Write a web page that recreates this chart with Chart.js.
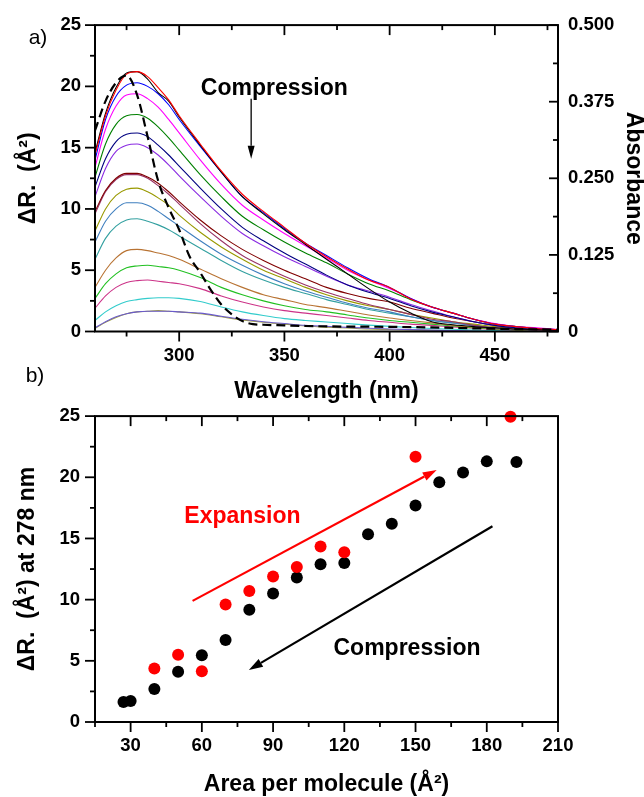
<!DOCTYPE html>
<html><head><meta charset="utf-8">
<script src="https://cdn.jsdelivr.net/npm/chart.js@4.4.1/dist/chart.umd.min.js"></script>
<style>
html,body{margin:0;padding:0;background:#fff;overflow:hidden;width:644px;height:797px;}
#ca{position:absolute;left:0;top:0;width:644px;height:405px;}
#cb{position:absolute;left:0;top:390px;width:644px;height:410px;}
</style></head><body>
<canvas id="ca" width="644" height="405"></canvas>
<canvas id="cb" width="644" height="410"></canvas>
<script>
// ---------- Panel a data ----------
const WAVELENGTH_NM = [260,265,270,275,280,285,290,295,300,310,320,330,340,350,360,370,380,390,400,410,420,430,440,450,460,470,480];
const S_RED     = [14.4,17.6,19.7,21.0,21.2,20.8,19.9,18.9,17.6,15.3,13.1,11.2,9.8,8.5,7.2,6.1,5.1,4.2,3.6,2.65,2.0,1.5,1.0,0.6,0.4,0.25,0.15];
const S_BLACK   = [14.6,17.8,19.9,21.1,21.2,20.6,19.5,18.8,17.5,15.2,13.0,11.0,9.6,8.3,7.1,5.9,4.7,3.5,2.4,1.5,0.8,0.55,0.4,0.3,0.2,0.15,0.1];
const S_BLUE    = [14.0,17.3,19.2,20.1,20.3,20.0,19.4,18.5,17.3,15.1,13.0,11.0,9.7,8.4,7.2,6.2,5.2,4.3,3.6,2.7,2.0,1.5,1.0,0.6,0.4,0.25,0.15];
const S_MAGENTA = [13.4,16.5,18.4,19.3,19.4,19.0,18.3,17.3,16.2,14.0,12.0,10.3,9.1,8.0,7.0,6.0,5.0,4.2,3.5,2.7,2.0,1.5,1.0,0.65,0.4,0.3,0.15];
const S_GREEN   = [12.6,15.3,16.9,17.6,17.7,17.4,16.7,15.8,14.8,12.8,11.0,9.4,8.3,7.3,6.4,5.6,4.7,3.9,3.3,2.6,2.0,1.5,1.0,0.6,0.4,0.25,0.15];
const S_NAVY    = [11.8,14.1,15.5,16.1,16.2,15.9,15.2,14.4,13.5,11.7,10.0,8.5,7.4,6.4,5.5,4.6,3.8,3.2,2.7,2.1,1.6,1.2,0.8,0.5,0.3,0.2,0.1];
const S_VIOLET  = [11.0,13.3,14.7,15.2,15.3,15.0,14.4,13.6,12.7,11.0,9.4,8.0,7.0,6.1,5.3,4.5,3.8,3.3,2.8,2.2,1.7,1.2,0.8,0.5,0.3,0.2,0.1];
const S_MAROON  = [9.8,11.5,12.5,12.9,12.9,12.6,12.1,11.4,10.6,9.1,7.8,6.7,5.8,5.0,4.3,3.6,3.1,2.7,2.4,1.9,1.5,1.1,0.8,0.5,0.3,0.2,0.1];
const S_PLUM    = [9.6,11.4,12.4,12.8,12.8,12.5,11.9,11.2,10.4,8.8,7.4,6.2,5.3,4.5,3.8,3.2,2.7,2.2,1.8,1.4,1.0,0.8,0.5,0.3,0.2,0.1,0.1];
const S_OLIVE   = [8.2,10.0,11.1,11.6,11.7,11.4,10.9,10.3,9.5,8.1,6.9,5.9,5.0,4.3,3.6,3.0,2.5,2.1,1.8,1.4,1.1,0.8,0.6,0.4,0.2,0.15,0.1];
const S_STEEL   = [7.3,9.0,10.0,10.5,10.5,10.3,9.8,9.2,8.6,7.4,6.3,5.4,4.6,3.9,3.3,2.8,2.3,1.9,1.6,1.2,0.9,0.7,0.5,0.3,0.2,0.1,0.1];
const S_TEAL    = [5.9,7.6,8.6,9.1,9.2,9.0,8.7,8.3,7.8,6.8,5.8,4.9,4.2,3.6,3.1,2.6,2.2,1.8,1.5,1.2,0.9,0.7,0.5,0.3,0.2,0.1,0.1];
const S_BROWN   = [3.6,5.0,6.0,6.6,6.7,6.6,6.4,6.2,5.9,5.1,4.3,3.6,3.0,2.6,2.2,1.95,1.65,1.35,1.1,0.9,0.7,0.5,0.35,0.25,0.15,0.1,0.05];
const S_LIME    = [2.7,3.9,4.7,5.2,5.35,5.4,5.3,5.2,5.0,4.4,3.6,3.0,2.5,2.1,1.8,1.6,1.35,1.1,0.9,0.75,0.6,0.45,0.3,0.2,0.12,0.08,0.05];
const S_PINK    = [1.9,2.9,3.6,4.0,4.15,4.2,4.1,4.0,3.9,3.5,2.9,2.4,2.0,1.7,1.5,1.3,1.1,0.9,0.75,0.6,0.5,0.38,0.27,0.17,0.1,0.06,0.04];
const S_CYAN    = [0.9,1.6,2.1,2.45,2.6,2.7,2.75,2.75,2.7,2.45,2.0,1.6,1.3,1.05,0.9,0.78,0.65,0.52,0.42,0.33,0.25,0.18,0.12,0.08,0.05,0.03,0.02];
const S_SLATE   = [0.3,0.8,1.2,1.45,1.6,1.65,1.65,1.65,1.6,1.5,1.25,1.0,0.8,0.65,0.5,0.42,0.34,0.27,0.2,0.15,0.11,0.08,0.05,0.03,0.02,0.01,0];
const S_KHAKI   = [0.25,0.75,1.15,1.45,1.6,1.65,1.7,1.65,1.6,1.45,1.2,0.95,0.75,0.6,0.45,0.35,0.28,0.2,0.16,0.12,0.1,0.07,0.05,0.03,0.02,0.01,0];

const ABS_WL     = [260,265,270,275,280,285,290,295,300,305,310,315,320,325,330,335,340,350,360,380,400,420,440,460,480];
const ABSORBANCE = [0.328,0.376,0.406,0.418,0.386,0.318,0.246,0.202,0.166,0.122,0.096,0.068,0.044,0.028,0.017,0.012,0.011,0.010,0.009,0.008,0.0076,0.0066,0.0052,0.004,0.003];

// ---------- Panel b data ----------
const AREA_COMPRESSION = [27,30,40,50,60,70,80,90,100,110,120,130,140,150,160,170,180,192.5];
const DR_COMPRESSION   = [1.64,1.72,2.7,4.1,5.45,6.7,9.17,10.5,11.8,12.9,13.0,15.35,16.2,17.7,19.6,20.4,21.3,21.25];
const AREA_EXPANSION   = [40,50,60,70,80,90,100,110,120,150,190];
const DR_EXPANSION     = [4.38,5.5,4.14,9.6,10.7,11.9,12.66,14.35,13.87,21.67,24.95];

// ---------- styles ----------
const SPECTRA = [S_RED,S_BLACK,S_BLUE,S_MAGENTA,S_GREEN,S_NAVY,S_VIOLET,S_MAROON,S_PLUM,S_OLIVE,S_STEEL,S_TEAL,S_BROWN,S_LIME,S_PINK,S_CYAN,S_SLATE,S_KHAKI];
const SPECTRA_COLORS = ['#ff0000','#000000','#0000ff','#ff00ff','#008000','#000080','#8a2be2','#800000','#993366','#999900','#3f7fbf','#33a0a0','#b87333','#22c022','#cc3388','#33cccc','#6a5acd','#a0a040'];

const FAM = "'Liberation Sans', Arial, Helvetica, sans-serif";
Chart.defaults.font.family = FAM;
Chart.defaults.color = '#000';

function isMajor(v, step){ return Math.abs(v/step - Math.round(v/step)) < 1e-6; }

const framePlugin = {
  id: 'frame',
  afterDraw(chart, args, o) {
    const ctx = chart.ctx, a = chart.chartArea;
    ctx.save();
    ctx.strokeStyle = '#000';
    ctx.lineWidth = 2;
    ctx.strokeRect(a.left, a.top, a.right - a.left, a.bottom - a.top);
    ctx.lineWidth = 1.8;
    (o.ticks || []).forEach(t => {
      const s = chart.scales[t.axis];
      s.ticks.forEach(tk => {
        const v = tk.value;
        if (v < s.min - 1e-9 || v > s.max + 1e-9) return;
        const len = isMajor(v, t.major) ? t.majLen : t.minLen;
        const p = s.getPixelForValue(v);
        ctx.beginPath();
        if (t.edge === 'bottom') { ctx.moveTo(p, a.bottom); ctx.lineTo(p, a.bottom + (t.inward ? -len : len)); }
        if (t.edge === 'top')    { ctx.moveTo(p, a.top);    ctx.lineTo(p, a.top + (t.inward ? len : -len)); }
        if (t.edge === 'left')   { ctx.moveTo(a.left, p);   ctx.lineTo(a.left + (t.inward ? len : -len), p); }
        if (t.edge === 'right')  { ctx.moveTo(a.right, p);  ctx.lineTo(a.right + (t.inward ? -len : len), p); }
        ctx.stroke();
      });
    });
    (o.arrows || []).forEach(ar => {
      const xs = chart.scales[ar.xAxis], ys = chart.scales[ar.yAxis];
      const x1 = xs.getPixelForValue(ar.from[0]), y1 = ys.getPixelForValue(ar.from[1]);
      const x2 = xs.getPixelForValue(ar.to[0]),   y2 = ys.getPixelForValue(ar.to[1]);
      const ang = Math.atan2(y2 - y1, x2 - x1);
      const bx = x2 - ar.head * Math.cos(ang), by = y2 - ar.head * Math.sin(ang);
      ctx.strokeStyle = ar.color; ctx.fillStyle = ar.color; ctx.lineWidth = ar.width;
      ctx.beginPath(); ctx.moveTo(x1, y1); ctx.lineTo(bx, by); ctx.stroke();
      ctx.beginPath();
      ctx.moveTo(x2, y2);
      ctx.lineTo(bx + ar.headW * Math.sin(ang), by - ar.headW * Math.cos(ang));
      ctx.lineTo(bx - ar.headW * Math.sin(ang), by + ar.headW * Math.cos(ang));
      ctx.closePath(); ctx.fill();
    });
    (o.texts || []).forEach(tx => {
      const xs = chart.scales[tx.xAxis], ys = chart.scales[tx.yAxis];
      ctx.fillStyle = tx.color; ctx.font = tx.font;
      ctx.textAlign = 'center'; ctx.textBaseline = 'middle';
      ctx.fillText(tx.text, xs.getPixelForValue(tx.at[0]), ys.getPixelForValue(tx.at[1]));
    });
    (o.labels || []).forEach(lb => {
      ctx.fillStyle = '#000'; ctx.font = lb.font;
      ctx.textAlign = 'center'; ctx.textBaseline = 'middle';
      ctx.fillText(lb.text, lb.px[0], lb.px[1]);
    });
    ctx.restore();
  }
};

const tickFont = {size: 18.5, weight: 'bold', family: FAM};
const titleFont = {size: 23, weight: 'bold', family: FAM};

// ---------- Chart a ----------
const dsA = [{
  label: 'Absorbance', yAxisID: 'y1',
  data: ABS_WL.map((w, i) => ({x: w, y: ABSORBANCE[i]})),
  borderColor: '#000', borderWidth: 2.2, borderDash: [9, 5], pointRadius: 0, cubicInterpolationMode: 'monotone'
}];
SPECTRA.forEach((s, k) => dsA.push({
  label: 'spectrum ' + (k + 1), yAxisID: 'y',
  data: WAVELENGTH_NM.map((w, i) => ({x: w, y: s[i]})),
  borderColor: SPECTRA_COLORS[k], borderWidth: 1.1, pointRadius: 0, cubicInterpolationMode: 'monotone'
}));

new Chart(document.getElementById('ca'), {
  type: 'line',
  data: {datasets: dsA},
  plugins: [framePlugin],
  options: {
    responsive: false, animation: false, parsing: true,
    layout: {padding: {top: 22, left: 0, right: 0, bottom: 0}},
    plugins: {
      legend: {display: false}, tooltip: {enabled: false},
      frame: {
        ticks: [
          {axis: 'x', edge: 'bottom', inward: false, major: 50, majLen: 10, minLen: 5},
          {axis: 'x', edge: 'top', inward: true, major: 50, majLen: 10, minLen: 5},
          {axis: 'y', edge: 'left', inward: false, major: 5, majLen: 10, minLen: 5},
          {axis: 'y1', edge: 'right', inward: true, major: 0.125, majLen: 9, minLen: 5}
        ],
        arrows: [{from: [334.2, 19.0], to: [334.2, 14.1], xAxis: 'x', yAxis: 'y', color: '#000', width: 1.3, head: 13, headW: 3.5}],
        texts: [{text: 'Compression', at: [345.2, 19.8], xAxis: 'x', yAxis: 'y', color: '#000', font: "bold 23px " + FAM}],
        labels: [{text: 'a)', px: [38, 38], font: "21px " + FAM}, {text: 'b)', px: [35, 376], font: "21px " + FAM}]
      }
    },
    scales: {
      x: {
        type: 'linear', position: 'bottom', min: 260, max: 480,
        grid: {display: false, drawTicks: false}, border: {display: false},
        ticks: {stepSize: 25, includeBounds: false, autoSkip: false, maxRotation: 0, padding: 13, font: tickFont, color: '#000',
                callback: v => isMajor(v, 50) ? String(v) : ''},
        title: {display: true, text: 'Wavelength (nm)', font: titleFont, color: '#000', padding: {top: 0, bottom: 0}},
        afterFit: s => { s.height = 73.5; }
      },
      y: {
        type: 'linear', position: 'left', min: 0, max: 25,
        grid: {display: false, drawTicks: false}, border: {display: false},
        ticks: {stepSize: 2.5, autoSkip: false, padding: 14, font: tickFont, color: '#000',
                callback: v => isMajor(v, 5) ? String(v) : ''},
        title: {display: true, text: 'ΔR.  (Å²)', font: titleFont, color: '#000', padding: {top: 15, bottom: 0}},
        afterFit: s => { s.width = 95; }
      },
      y1: {
        type: 'linear', position: 'right', min: 0, max: 0.5,
        grid: {display: false, drawTicks: false}, border: {display: false},
        ticks: {stepSize: 0.0625, autoSkip: false, padding: 10, font: tickFont, color: '#000',
                callback: v => isMajor(v, 0.125) ? (v === 0 ? '0' : v.toFixed(3)) : ''},
        title: {display: true, text: 'Absorbance', font: titleFont, color: '#000', padding: {top: -3, bottom: 0}},
        afterFit: s => { s.width = 86; }
      }
    }
  }
});

// ---------- Chart b ----------
new Chart(document.getElementById('cb'), {
  type: 'scatter',
  data: {datasets: [
    {label: 'Expansion', data: AREA_EXPANSION.map((a, i) => ({x: a, y: DR_EXPANSION[i]})),
     backgroundColor: '#ff0000', borderWidth: 0, pointRadius: 6, pointHoverRadius: 6, clip: false},
    {label: 'Compression', data: AREA_COMPRESSION.map((a, i) => ({x: a, y: DR_COMPRESSION[i]})),
     backgroundColor: '#000000', borderWidth: 0, pointRadius: 6, pointHoverRadius: 6, clip: false}
  ]},
  plugins: [framePlugin],
  options: {
    responsive: false, animation: false,
    layout: {padding: {top: 22, left: 0, right: 86, bottom: 0}},
    plugins: {
      legend: {display: false}, tooltip: {enabled: false},
      frame: {
        ticks: [
          {axis: 'x', edge: 'bottom', inward: false, major: 30, majLen: 10, minLen: 5},
          {axis: 'x', edge: 'top', inward: true, major: 30, majLen: 10, minLen: 5},
          {axis: 'y', edge: 'left', inward: false, major: 5, majLen: 10, minLen: 5}
        ],
        arrows: [
          {from: [56.1, 9.9], to: [158.9, 20.6], xAxis: 'x', yAxis: 'y', color: '#ff0000', width: 2.2, head: 14, headW: 4.5},
          {from: [182.4, 16.0], to: [79.8, 4.25], xAxis: 'x', yAxis: 'y', color: '#000000', width: 2.2, head: 14, headW: 4.5}
        ],
        texts: [
          {text: 'Expansion', at: [77.1, 16.8], xAxis: 'x', yAxis: 'y', color: '#ff0000', font: "bold 23px " + FAM},
          {text: 'Compression', at: [146.4, 5.97], xAxis: 'x', yAxis: 'y', color: '#000000', font: "bold 23px " + FAM}
        ]
      }
    },
    scales: {
      x: {
        type: 'linear', position: 'bottom', min: 15, max: 210,
        grid: {display: false, drawTicks: false}, border: {display: false},
        ticks: {stepSize: 15, autoSkip: false, maxRotation: 0, padding: 12.5, font: tickFont, color: '#000',
                callback: v => isMajor(v, 30) ? String(v) : ''},
        title: {display: true, text: 'Area per molecule (Å²)', font: titleFont, color: '#000', padding: {top: 0, bottom: 1.5}},
        afterFit: s => { s.height = 78; }
      },
      y: {
        type: 'linear', position: 'left', min: 0, max: 25,
        grid: {display: false, drawTicks: false}, border: {display: false},
        ticks: {stepSize: 2.5, autoSkip: false, padding: 15, font: tickFont, color: '#000',
                callback: v => isMajor(v, 5) ? String(v) : ''},
        title: {display: true, text: 'ΔR.  (Å²) at 278 nm', font: titleFont, color: '#000', padding: {top: 14, bottom: 0}},
        afterFit: s => { s.width = 95; }
      }
    }
  }
});
</script>
</body></html>
